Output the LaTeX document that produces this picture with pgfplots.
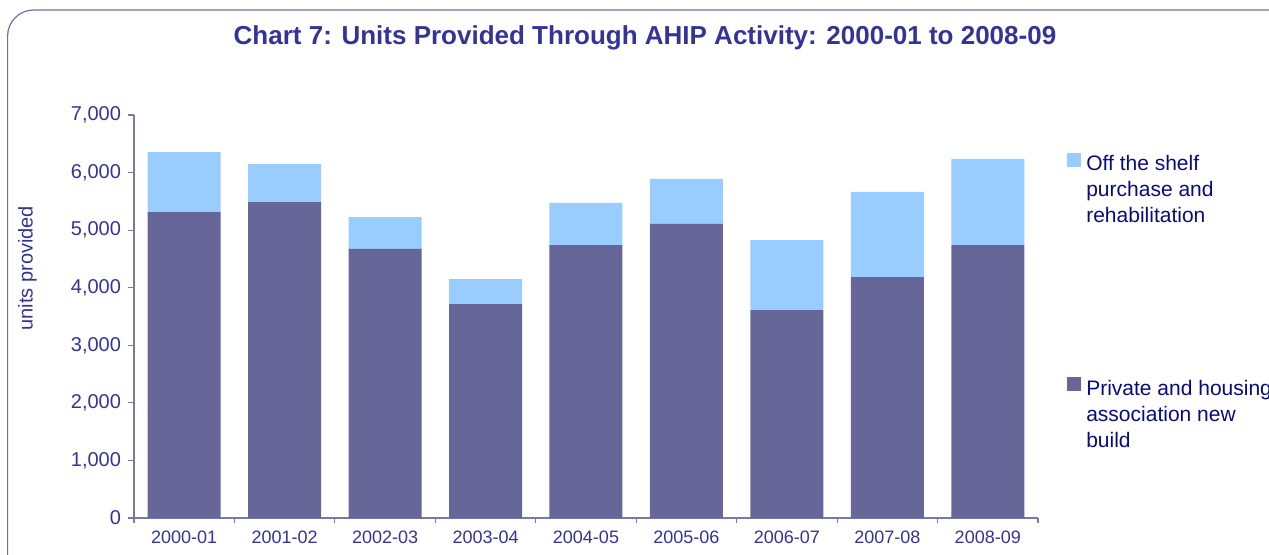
\documentclass[border=0pt]{standalone}
\usepackage{pgfplots}
\pgfplotsset{compat=1.18}
\usepackage{fontspec}
\setmainfont{Liberation Sans}

\definecolor{darkbar}{RGB}{102,102,153}
\definecolor{lightbar}{RGB}{153,204,255}
\definecolor{ticktext}{RGB}{51,51,153}
\definecolor{legtext}{RGB}{10,10,128}
\definecolor{axiscol}{RGB}{120,120,170}
\definecolor{framecol}{RGB}{112,112,168}

\begin{document}
\begin{tikzpicture}
    % rounded frame (runs off the right and bottom edges)
    \draw[framecol, line width=0.6pt, rounded corners=13pt] (3.8pt,-5pt) rectangle (660pt,-300pt);

    \node[anchor=base, text=ticktext, font=\bfseries\fontsize{13}{16}\selectfont]
        at (322.5pt,-22.2pt) {Chart 7: Units Provided Through AHIP Activity: 2000-01 to 2008-09};

    \begin{axis}[
        at={(67pt,-259pt)}, anchor=south west,
        scale only axis,
        width=452pt, height=201.5pt,
        ybar stacked,
        bar width=36.5pt,
        xmin=0.5, xmax=9.5,
        ymin=0, ymax=7000,
        xtick={1,...,9},
        xticklabels={2000-01,2001-02,2002-03,2003-04,2004-05,2005-06,2006-07,2007-08,2008-09},
        minor xtick={0.5,1.5,...,9.5},
        ytick={0,1000,...,7000},
        axis lines*=left,
        axis line style={draw=axiscol, line width=0.6pt},
        tick align=outside,
        major x tick style={draw=none},
        minor x tick style={draw=axiscol, line width=0.6pt},
        y tick style={draw=axiscol, line width=0.6pt},
        major tick length=3pt,
        minor tick length=2.5pt,
        /pgf/number format/assume math mode=true,
        /pgf/number format/1000 sep={,},
        yticklabel style={font=\fontsize{10}{12}\selectfont, text=ticktext},
        xticklabel style={font=\fontsize{9}{11}\selectfont, text=ticktext},
        ylabel={units provided},
        ylabel style={font=\fontsize{10}{12}\selectfont, text=ticktext,
            at={(axis description cs:-0.118,0.62)}, anchor=center},
        legend style={draw=none, fill=none, inner sep=0pt,
            at={(1.032,0.91)}, anchor=north west,
            font=\fontsize{10.5}{13}\selectfont, text=legtext,
            row sep=73pt, column sep=0.5pt,
            cells={anchor=west, align=left}},
        reverse legend,
        legend image code/.code={\fill[#1] (0pt,11.8pt) rectangle (7pt,18.8pt);},
        clip=false,
    ]
    \addplot[fill=darkbar, draw=none] coordinates {
        (1,5315) (2,5489) (3,4673) (4,3717) (5,4742)
        (6,5107) (7,3613) (8,4186) (9,4742)
    };
    \addlegendentry{Private and housing\\association new\\build}

    \addplot[fill=lightbar, draw=none] coordinates {
        (1,1042) (2,660) (3,555) (4,434) (5,730)
        (6,782) (7,1216) (8,1477) (9,1494)
    };
    \addlegendentry{Off the shelf\\purchase and\\rehabilitation}
    \end{axis}

    \pgfresetboundingbox
    \path[use as bounding box] (0pt,0pt) rectangle (634.5pt,-277pt);
\end{tikzpicture}
\end{document}
